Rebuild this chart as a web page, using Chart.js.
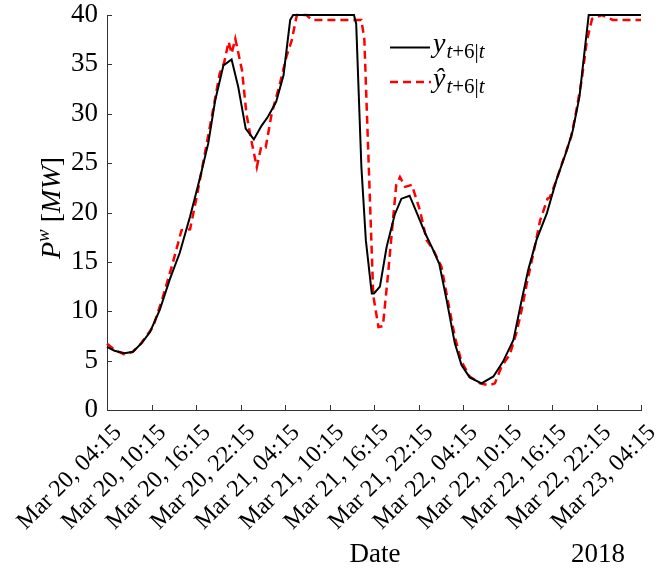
<!DOCTYPE html>
<html>
<head>
<meta charset="utf-8">
<script src="https://cdn.jsdelivr.net/npm/chart.js@4.4.1/dist/chart.umd.min.js"></script>
<style>
html,body{margin:0;padding:0;background:#fff;}
#wrap{width:670px;height:571px;}
</style>
</head>
<body>
<div id="wrap"><canvas id="c" width="670" height="571"></canvas></div>
<script>
// x tick labels (every 6 hours starting Mar 20, 04:15)
const tickLabels = ['Mar 20, 04:15','Mar 20, 10:15','Mar 20, 16:15','Mar 20, 22:15','Mar 21, 04:15','Mar 21, 10:15','Mar 21, 16:15','Mar 21, 22:15','Mar 22, 04:15','Mar 22, 10:15','Mar 22, 16:15','Mar 22, 22:15','Mar 23, 04:15'];
const yTicks = [0,5,10,15,20,25,30,35,40];

// actual power y_{t+6|t}: hours after Mar 20 04:15, MW
const actualHours = [0,1,2.4,3.5,4.7,5.8,7.1,8.5,9.8,11.2,12.5,13.65,14.6,15.7,16.8,17.7,18.7,19.8,20.85,21.7,22.8,23.8,24.7,25.1,33.3,33.6,34.3,34.9,35.7,36.0,36.8,37.7,38.8,39.7,40.8,41.8,42.9,43.8,44.8,45.8,46.9,47.8,48.9,50.5,52.1,53.4,54.8,55.9,56.8,57.9,59.3,60.6,62,62.8,63.7,64.4,64.95,72];
const actualMW    = [6.4,6.0,5.75,5.9,6.8,7.9,10.1,13.3,15.9,19.6,23.4,27,31.4,34.9,35.5,32.7,28.5,27.4,28.8,29.7,31.2,33.9,39.5,40,40,39.1,24.6,17.2,11.8,11.8,12.5,16.5,19.8,21.4,21.7,19.9,17.9,16.5,14.8,11.1,6.75,4.55,3.3,2.7,3.4,4.9,7.1,11.1,14.2,17.2,19.9,23.3,26.3,28.3,31.7,36.4,40,40];

// forecast power ŷ_{t+6|t}
const forecastHours = [0,1.2,2.4,3.5,4.6,6.2,7.4,8.8,10.05,11.2,12.1,13.2,14.3,15.2,15.8,16.4,16.8,17.3,18.2,18.8,19.4,20.2,20.8,21.4,22.2,23.3,24.2,24.9,25.6,26.9,27.6,34.3,34.7,35.9,36.6,37.2,37.9,38.6,39.0,39.5,40.2,41.1,42.2,43.1,44,45.1,46,46.9,47.8,48.9,50.3,51.6,52.3,53.2,54.3,55.2,55.9,56.6,57.5,58.4,59.4,59.7,60.6,61.5,62.6,63.3,64,64.7,65.4,66.7,68.2,72];
const forecastMW    = [6.7,6.0,5.6,5.9,6.75,8.4,11.1,14.7,18.2,18.3,21.6,26,30.4,34.1,35.2,37.3,36.1,37.6,34.4,30,27.5,24.6,26.7,26.6,30,33,35.8,37.4,40,40,39.5,39.5,37.5,11.6,8.4,8.5,13.8,19.6,22.8,23.6,22.6,22.8,20.2,17.2,16.2,14.5,10.9,7.4,4.9,3.4,2.7,2.5,2.7,4.4,5.6,7.8,10.1,12.8,15.9,19.2,21.4,21.5,23.3,25.3,27.7,30.4,33.4,37.4,39.6,40,39.5,39.5];

const SERIF = '"Liberation Serif", "DejaVu Serif", serif';

function pts(xs, ys){ return xs.map((x,i)=>({x:x, y:ys[i]})); }

const decor = {
  id: 'decor',
  afterDraw(chart){
    const ctx = chart.ctx;
    const xs = chart.scales.x, ys = chart.scales.y;
    const area = chart.chartArea;
    ctx.save();
    // inward ticks
    ctx.strokeStyle = '#333';
    ctx.lineWidth = 1;
    ctx.beginPath();
    for (let i=0;i<tickLabels.length;i++){
      const px = Math.round(xs.getPixelForValue(i*6))+0.5;
      ctx.moveTo(px, area.bottom); ctx.lineTo(px, area.bottom-5);
    }
    yTicks.forEach(v=>{
      const py = Math.round(ys.getPixelForValue(v))+0.5;
      ctx.moveTo(area.left, py); ctx.lineTo(area.left+5, py);
    });
    ctx.stroke();

    ctx.fillStyle = '#000';
    ctx.textBaseline = 'alphabetic';
    // axis titles
    ctx.font = '27px ' + SERIF;
    ctx.textAlign = 'center';
    ctx.fillText('Date', 375, 562);
    ctx.fillText('2018', 598, 562);

    // y title: P^w [MW] rotated
    ctx.save();
    ctx.translate(60, 208);
    ctx.rotate(-Math.PI/2);
    const parts = [
      {t:'P', f:'italic 28px '+SERIF, dy:0},
      {t:'w', f:'italic 19px '+SERIF, dy:-11},
      {t:' [', f:'28px '+SERIF, dy:0},
      {t:'MW', f:'italic 28px '+SERIF, dy:0},
      {t:']', f:'28px '+SERIF, dy:0}
    ];
    let total = 0;
    parts.forEach(p=>{ ctx.font=p.f; p.w = ctx.measureText(p.t).width; total += p.w; });
    let cx = -total/2;
    ctx.textAlign = 'left';
    parts.forEach(p=>{ ctx.font=p.f; ctx.fillText(p.t, cx, p.dy); cx += p.w; });
    ctx.restore();

    // legend
    function mathLabel(x, y, main){
      ctx.textAlign='left';
      ctx.font = 'italic 28px '+SERIF;
      ctx.fillText(main, x, y);
      let cx2 = x + ctx.measureText(main).width + 1;
      const sub = [
        {t:'t', f:'italic 21px '+SERIF},
        {t:'+6|', f:'21px '+SERIF},
        {t:'t', f:'italic 21px '+SERIF}
      ];
      sub.forEach(s=>{ ctx.font=s.f; ctx.fillText(s.t, cx2, y+6); cx2 += ctx.measureText(s.t).width; });
    }
    ctx.lineWidth = 2;
    ctx.strokeStyle = '#000';
    ctx.setLineDash([]);
    ctx.beginPath(); ctx.moveTo(390, 47.5); ctx.lineTo(430, 47.5); ctx.stroke();
    mathLabel(433, 52, 'y');
    ctx.strokeStyle = '#ff0000';
    ctx.lineWidth = 2.5;
    ctx.setLineDash([8,5]);
    ctx.beginPath(); ctx.moveTo(390, 82); ctx.lineTo(431, 82); ctx.stroke();
    ctx.setLineDash([]);
    mathLabel(433, 87, 'ŷ');
    ctx.restore();
  }
};

new Chart(document.getElementById('c'), {
  type: 'line',
  data: {
    datasets: [
      {
        label: 'y',
        data: pts(actualHours, actualMW),
        borderColor: '#000',
        borderWidth: 2,
        pointRadius: 0,
        tension: 0,
        fill: false,
        clip: false
      },
      {
        label: 'yhat',
        data: pts(forecastHours, forecastMW),
        borderColor: '#ff0000',
        borderWidth: 2.5,
        borderDash: [8,5],
        pointRadius: 0,
        tension: 0,
        fill: false,
        clip: false
      }
    ]
  },
  options: {
    responsive: false,
    devicePixelRatio: 1,
    animation: false,
    layout: { padding: { left: 0, right: 29, top: 15, bottom: 0 } },
    plugins: { legend: { display: false }, tooltip: { enabled: false } },
    scales: {
      x: {
        type: 'linear',
        min: 0, max: 72,
        grid: { display: false, drawTicks: false },
        border: { display: true, color: '#333', width: 1 },
        afterFit(s){ s.height = 161; s.paddingLeft = 0; s.paddingRight = 0; },
        afterBuildTicks(s){ s.ticks = tickLabels.map((_,i)=>({value:i*6})); },
        ticks: {
          autoSkip: false,
          maxRotation: 45, minRotation: 45,
          padding: 9,
          labelOffset: 11,
          color: '#000',
          font: { family: SERIF, size: 24 },
          callback: (v) => tickLabels[Math.round(v/6)]
        }
      },
      y: {
        min: 0, max: 40,
        grid: { display: false, drawTicks: false },
        border: { display: true, color: '#333', width: 1 },
        afterFit(s){ s.width = 107; s.paddingTop = 0; s.paddingBottom = 0; },
        afterBuildTicks(s){ s.ticks = yTicks.map(v=>({value:v})); },
        ticks: {
          padding: 9,
          color: '#000',
          font: { family: SERIF, size: 27 },
          callback: (v) => String(v)
        }
      }
    }
  },
  plugins: [decor]
});
</script>
</body>
</html>
